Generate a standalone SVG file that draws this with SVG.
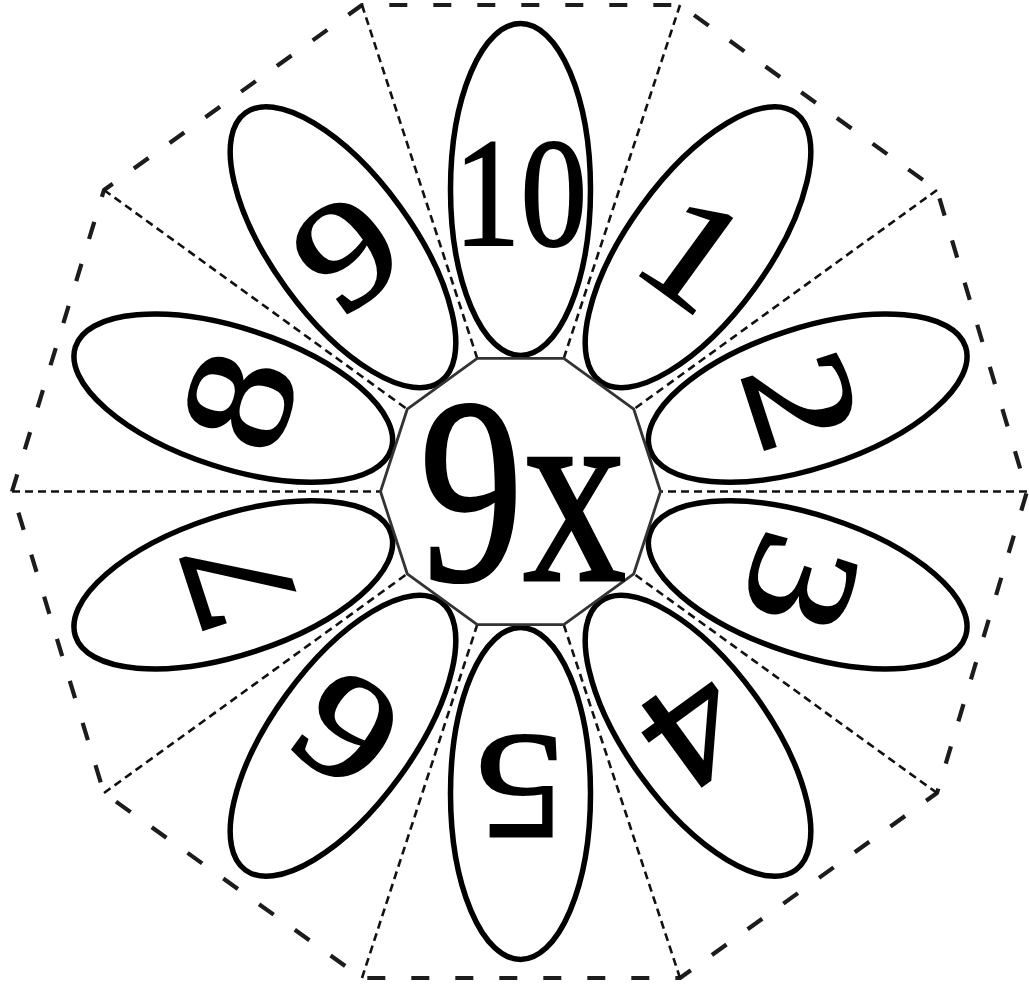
<svg xmlns="http://www.w3.org/2000/svg" width="1029" height="991" viewBox="0 0 1029 991">
<style>
.frame{fill:none;stroke:#1c1c1c;stroke-width:4.2;stroke-dasharray:18 26;stroke-linejoin:round}
.spoke{stroke:#111;stroke-width:2.6;stroke-dasharray:8 5;fill:none}
.petal{fill:#fff;stroke:#000;stroke-width:5.5}
.hub{fill:#fff;stroke:#333;stroke-width:2.8}
.num{font-family:"Liberation Serif","Times New Roman",serif;font-size:152px;fill:#000;stroke:#000;stroke-width:2;text-anchor:middle}
.big{font-family:"Liberation Serif","Times New Roman",serif;font-size:265px;fill:#000;stroke:#000;stroke-width:3;text-anchor:middle}
</style>
<rect x="0" y="0" width="1029" height="991" fill="#fff"/>
<g id="frame">
<polygon class="frame" points="12,491.5 104,190 362,5 680,5 937,190 1027,491.5 937,793 680,978 362,978 104,793"/>
</g>
<g id="connectors">
<line class="spoke" x1="12" y1="491.5" x2="380.5" y2="491.5"/>
<line class="spoke" x1="104" y1="190" x2="407.24" y2="409.21"/>
<line class="spoke" x1="362" y1="5" x2="477.24" y2="358.35"/>
<line class="spoke" x1="680" y1="5" x2="563.76" y2="358.35"/>
<line class="spoke" x1="937" y1="190" x2="633.76" y2="409.21"/>
<line class="spoke" x1="1027" y1="491.5" x2="660.5" y2="491.5"/>
<line class="spoke" x1="937" y1="793" x2="633.76" y2="573.79"/>
<line class="spoke" x1="680" y1="978" x2="563.76" y2="624.65"/>
<line class="spoke" x1="362" y1="978" x2="477.24" y2="624.65"/>
<line class="spoke" x1="104" y1="793" x2="407.24" y2="573.79"/>
</g>
<g id="petals">
<g id="petal-10" transform="translate(520.5,491.5) rotate(0)"><ellipse class="petal" cx="0" cy="-302" rx="70" ry="166"/><text class="num" style="font-size:155px" transform="translate(0,-299) scale(0.86,1)" y="52">10</text></g>
<g id="petal-1" transform="translate(520.5,491.5) rotate(36)"><ellipse class="petal" cx="0" cy="-302" rx="70" ry="166"/><text class="num" transform="translate(0,-296) scale(1.2,1)" y="51">1</text></g>
<g id="petal-2" transform="translate(520.5,491.5) rotate(72)"><ellipse class="petal" cx="0" cy="-302" rx="70" ry="166"/><text class="num" transform="translate(0,-296) scale(1.2,1)" y="51">2</text></g>
<g id="petal-3" transform="translate(520.5,491.5) rotate(108)"><ellipse class="petal" cx="0" cy="-302" rx="70" ry="166"/><text class="num" transform="translate(0,-296) scale(1.2,1)" y="51">3</text></g>
<g id="petal-4" transform="translate(520.5,491.5) rotate(144)"><ellipse class="petal" cx="0" cy="-302" rx="70" ry="166"/><text class="num" transform="translate(0,-296) scale(1.2,1)" y="51">4</text></g>
<g id="petal-5" transform="translate(520.5,491.5) rotate(180)"><ellipse class="petal" cx="0" cy="-302" rx="70" ry="166"/><text class="num" transform="translate(0,-296) scale(1.2,1)" y="51">5</text></g>
<g id="petal-6" transform="translate(520.5,491.5) rotate(216)"><ellipse class="petal" cx="0" cy="-302" rx="70" ry="166"/><text class="num" transform="translate(0,-296) scale(1.2,1)" y="51">6</text></g>
<g id="petal-7" transform="translate(520.5,491.5) rotate(252)"><ellipse class="petal" cx="0" cy="-302" rx="70" ry="166"/><text class="num" transform="translate(0,-296) scale(1.2,1)" y="51">7</text></g>
<g id="petal-8" transform="translate(520.5,491.5) rotate(288)"><ellipse class="petal" cx="0" cy="-302" rx="70" ry="166"/><text class="num" transform="translate(0,-296) scale(1.2,1)" y="51">8</text></g>
<g id="petal-9" transform="translate(520.5,491.5) rotate(324)"><ellipse class="petal" cx="0" cy="-302" rx="70" ry="166"/><text class="num" transform="translate(0,-296) scale(1.2,1)" y="51">9</text></g>
</g>
<g id="center">
<polygon class="hub" points="660.5,491.5 633.76,409.21 563.76,358.35 477.24,358.35 407.24,409.21 380.5,491.5 407.24,573.79 477.24,624.65 563.76,624.65 633.76,573.79"/>
<text class="big" transform="translate(523,580) scale(0.78,1)">9x</text>
</g>
</svg>
